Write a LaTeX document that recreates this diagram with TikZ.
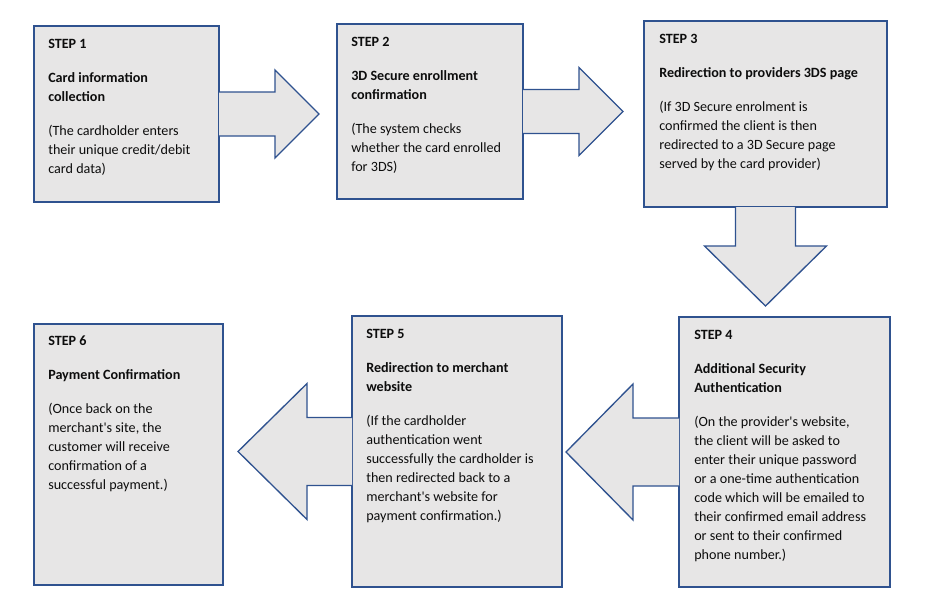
\documentclass[tikz,border=0pt]{standalone}
\usepackage{fontspec}
\setmainfont{Carlito}
\usepackage{tikz}
\usetikzlibrary{calc, positioning}
\definecolor{boxfill}{HTML}{E7E6E6}
\definecolor{boxline}{HTML}{2F528F}
\definecolor{txtcol}{HTML}{0D0D0D}

\begin{document}
\begin{tikzpicture}[x=0.75pt, y=-0.75pt,
                box/.style={draw=boxline, fill=boxfill, line width=1pt, anchor=north west, outer sep=0pt, inner sep=0pt},
                txt/.style={anchor=north west, inner sep=0pt, align=left, text=txtcol, font=\fontsize{10.6}{14.3}\selectfont},
                blockarrow/.style={draw=boxline, fill=boxfill, line width=1pt, line join=miter}
            ]
                \useasboundingbox (0,0) rectangle (934,594);

                \node[box, minimum width=138.75pt, minimum height=132pt] (s1) at (34,26) {};
                \node[box, minimum width=139.5pt, minimum height=131.25pt] (s2) at (337,24) {};
                \node[box, minimum width=182.25pt, minimum height=139.5pt] (s3) at (644,21) {};
                \node[box, minimum width=158.25pt, minimum height=202.5pt] (s4) at (679,317) {};
                \node[box, minimum width=157.5pt, minimum height=203.25pt] (s5) at (352,316) {};
                \node[box, line width=1.6pt, minimum width=141.75pt, minimum height=195.75pt] (s6) at (34,324) {};

                \path[blockarrow] ($(s1.east)+(0,-22)$) -- ++(56,0) -- ++(0,-22) -- ++(44,44) -- ++(-44,44) -- ++(0,-22) -- ++(-56,0);
                \path[blockarrow] ($(s2.east)+(0,-22)$) -- ++(56,0) -- ++(0,-22) -- ++(44,44) -- ++(-44,44) -- ++(0,-22) -- ++(-56,0);
                \path[blockarrow] ($(s3.south)+(-30,0)$) -- ++(0,39) -- ++(-31,0) -- ++(61,60) -- ++(61,-60) -- ++(-31,0) -- ++(0,-39);
                \path[blockarrow] ($(s4.west)+(0,-34)$) -- ++(-46,0) -- ++(0,-34) -- ++(-67,68) -- ++(67,68) -- ++(0,-34) -- ++(46,0);
                \path[blockarrow] ($(s5.west)+(0,-34)$) -- ++(-45,0) -- ++(0,-34) -- ++(-69,68) -- ++(69,68) -- ++(0,-34) -- ++(45,0);

                \node[txt] (t1) at ([shift={(14,13)}]s1.north west) {\textbf{STEP 1}\\[11pt]\textbf{Card information}\\\textbf{collection}\\[11pt](The cardholder enters\\their unique credit/debit\\card data)};
                \node[txt] (t2) at ([shift={(14,13)}]s2.north west) {\textbf{STEP 2}\\[11pt]\textbf{3D Secure enrollment}\\\textbf{confirmation}\\[11pt](The system checks\\whether the card enrolled\\for 3DS)};
                \node[txt] (t3) at ([shift={(15,13)}]s3.north west) {\textbf{STEP 3}\\[11pt]\textbf{Redirection to providers 3DS page}\\[11pt](If 3D Secure enrolment is\\confirmed the client is then\\redirected to a 3D Secure page\\served by the card provider)};
                \node[txt] (t4) at ([shift={(15,13)}]s4.north west) {\textbf{STEP 4}\\[11pt]\textbf{Additional Security}\\\textbf{Authentication}\\[11pt](On the provider\textquotesingle s website,\\the client will be asked to\\enter their unique password\\or a one-time authentication\\code which will be emailed to\\their confirmed email address\\or sent to their confirmed\\phone number.)};
                \node[txt] (t5) at ([shift={(14,13)}]s5.north west) {\textbf{STEP 5}\\[11pt]\textbf{Redirection to merchant}\\\textbf{website}\\[11pt](If the cardholder\\authentication went\\successfully the cardholder is\\then redirected back to a\\merchant\textquotesingle s website for\\payment confirmation.)};
                \node[txt] (t6) at ([shift={(14,12)}]s6.north west) {\textbf{STEP 6}\\[11pt]\textbf{Payment Confirmation}\\[11pt](Once back on the\\merchant\textquotesingle s site, the\\customer will receive\\confirmation of a\\successful payment.)};
            \end{tikzpicture}
\end{document}
